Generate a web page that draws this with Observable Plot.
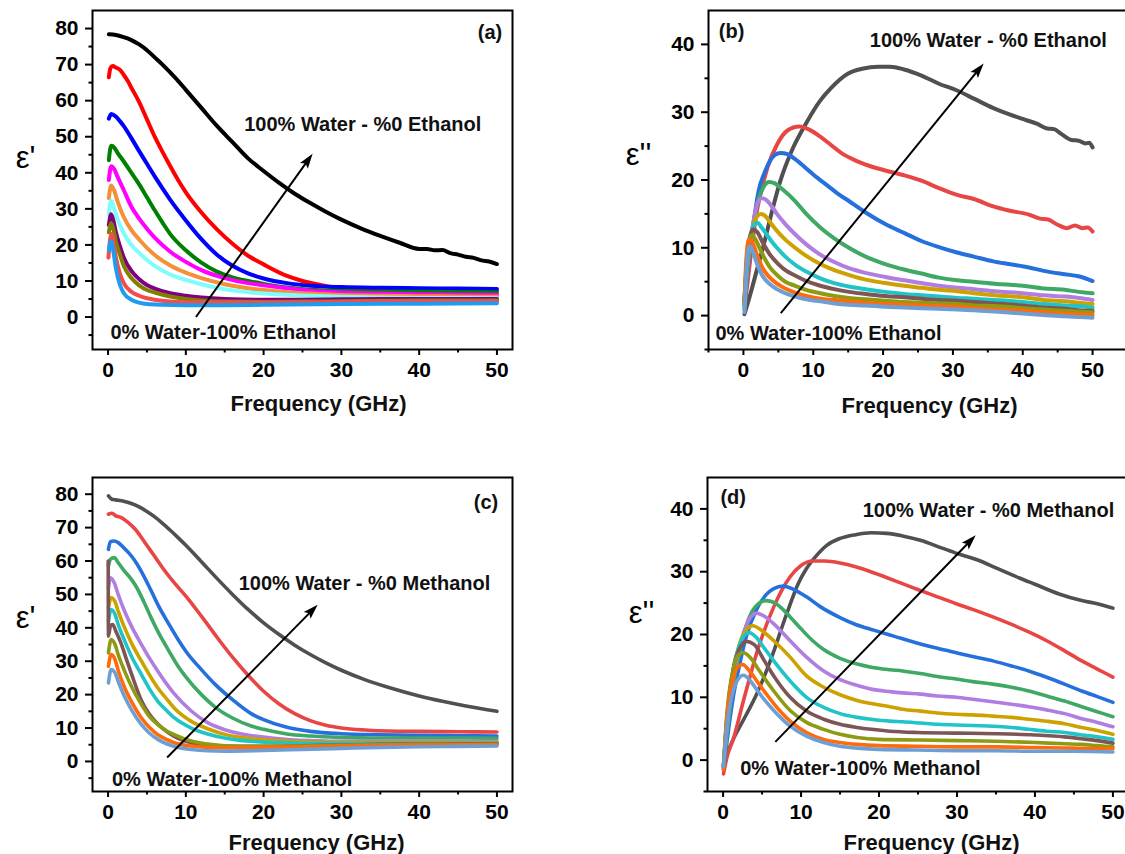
<!DOCTYPE html>
<html>
<head>
<meta charset="utf-8">
<script src="https://cdn.jsdelivr.net/npm/d3@7"></script>
<script src="https://cdn.jsdelivr.net/npm/@observablehq/plot@0.6"></script>
<style>
html, body { margin: 0; padding: 0; background: #fff; overflow: hidden; }
#fig { position: relative; width: 1125px; height: 854px; overflow: hidden; background: #fff; }
#fig svg { position: absolute; }
</style>
</head>
<body>
<div id="fig"></div>
<script>
// ---------- DATA ----------
// water percentage of each mixture (curve order: top curve first)
const waterPercent = [100, 90, 80, 70, 60, 50, 40, 30, 20, 10, 0];

// colours
const coloursEthanolReal = ["#000000", "#ff0000", "#0000ff", "#008000", "#ff00ff", "#f68f3a", "#7ffcfc", "#800080", "#808000", "#f24c4c", "#1e9cf0"];
const coloursOther = ["#505050", "#e84545", "#2570dd", "#3fa864", "#b07de0", "#cda100", "#20c4c8", "#7d5555", "#8e9b12", "#ff6a0a", "#6d9fd5"];

// tick values
const ticksMajorX = [0, 10, 20, 30, 40, 50];
const ticksMinorX = [5, 15, 25, 35, 45];
const ticksMinorXWide = [-5, 5, 15, 25, 35, 45];
const ticksMajorYReal = [0, 10, 20, 30, 40, 50, 60, 70, 80];
const ticksMinorYReal = [-5, 5, 15, 25, 35, 45, 55, 65, 75];
const ticksMajorYImag = [0, 10, 20, 30, 40];
const ticksMinorYImag = [-5, 5, 15, 25, 35];

// (a) eps' water-ethanol  [frequency GHz, value]
const epsRealEthanol = [
  [[0.1,78.4],[1,78.2],[2,77.6],[3,76.8],[4,75.6],[5,74],[6,72],[7,70],[8,67.8],[9,65.5],[10,63],[12,58],[14,53],[16,48.5],[18,44],[20,40.5],[22,37.2],[24,34.2],[26,31.6],[28,29.2],[30,27],[32.5,24.6],[35,22.5],[37.5,20.6],[40,18.9],[41,18.9],[42,18.5],[43,18.6],[44,17.7],[45,17.3],[46,16.7],[47,16.4],[48,15.7],[49,15.4],[50,14.7]],
  [[0.1,66.5],[0.3,69],[0.6,69.6],[1,69.2],[1.5,68.6],[2,67.2],[2.5,65.6],[3,63.6],[4,59.6],[5,54.8],[6,50],[7,45.8],[8,41.8],[9,38],[10,34.6],[12,29],[14,24.3],[16,20.3],[18,17],[20,14.6],[23,11.4],[25,10],[28,8.6],[30,8],[35,7.6],[40,7.5],[45,7.4],[50,7.3]],
  [[0.1,55],[0.4,56.3],[1,55.6],[1.5,54.4],[2,53],[3,49.6],[4,46],[5,42.5],[6,39],[7,35.7],[8,32.5],[10,26.8],[12,21.6],[14,17.3],[16,14.2],[18,12.1],[20,10.7],[23,9.4],[26,8.7],[30,8.3],[35,8.1],[40,8],[45,7.9],[50,7.8]],
  [[0.1,43.5],[0.4,47.5],[0.8,47],[1.2,45.6],[2,43.2],[3,40],[4,36.8],[5,33.2],[6,29.6],[7,26.2],[8,23],[10,18.5],[12,15.1],[14,12.6],[16,11],[18,10],[20,9.2],[23,8.2],[26,7.6],[30,7.2],[35,7],[40,7],[45,6.9],[50,6.8]],
  [[0.1,38],[0.4,41.8],[0.8,41],[1.2,39],[2,35.3],[3,30.6],[4,27.3],[5,24.5],[6,22],[8,18.1],[10,15.3],[12,13],[15,10.8],[18,9.4],[20,8.8],[23,8],[26,7.3],[30,6.8],[35,6.5],[40,6.3],[45,6.2],[50,6.1]],
  [[0.1,33],[0.4,36.5],[0.8,35],[1.2,32.2],[2,27.8],[3,24.1],[4,21.5],[5,19.2],[6,17.2],[8,14.3],[10,12.3],[12,10.8],[15,9.1],[18,8],[20,7.5],[23,6.9],[26,6.5],[30,6.1],[35,5.9],[40,5.8],[45,5.7],[50,5.6]],
  [[0.1,28.5],[0.4,32.3],[0.8,30],[1.2,27.3],[2,23.3],[3,20],[4,17.8],[5,15.8],[6,14.2],[8,11.8],[10,10.3],[12,9.1],[15,7.7],[18,6.9],[20,6.5],[25,6],[30,5.6],[35,5.4],[40,5.3],[45,5.3],[50,5.2]],
  [[0.1,25.5],[0.4,28.5],[0.7,26.6],[1,23.6],[1.5,19.8],[2,16.6],[3,12.8],[4,10.5],[5,8.9],[6,7.9],[8,6.6],[10,5.9],[12,5.4],[15,5],[20,4.8],[25,4.8],[30,4.9],[35,5],[40,5],[45,5],[50,5]],
  [[0.1,23.5],[0.4,26],[0.7,24.2],[1,21],[1.5,17.5],[2,14.3],[3,10.8],[4,8.8],[5,7.5],[6,6.8],[8,5.7],[10,5],[12,4.6],[15,4.3],[20,4.2],[25,4.3],[30,4.4],[35,4.5],[40,4.6],[45,4.6],[50,4.6]],
  [[0.05,16.5],[0.3,22],[0.5,23],[0.8,19.2],[1,16.6],[1.5,12.2],[2,9.5],[3,7],[4,5.9],[5,5.2],[6,4.8],[8,4.3],[10,4.1],[15,4],[20,4],[30,4.2],[40,4.4],[50,4.4]],
  [[0.1,18.5],[0.4,21],[0.7,18],[1,13.6],[1.5,9.1],[2,6.7],[3,4.8],[4,4],[5,3.6],[7,3.4],[10,3.3],[15,3.3],[20,3.4],[30,3.6],[40,3.7],[50,3.8]]
];

// (b) eps'' water-ethanol
const epsImagEthanol = [
  [[0.15,0.2],[1,3.2],[2,7],[2.8,10],[4,15],[5.3,19.9],[7,24.5],[9,28.4],[11,31.7],[12.5,33.5],[15,35.7],[17,36.4],[19.3,36.7],[21,36.7],[23,36.3],[25.5,35.4],[28,34.2],[30.6,33.2],[33,32],[35.8,30.6],[38,29.7],[40,29],[42,28.3],[43.5,27.6],[44.5,27.5],[45.5,26.8],[47,25.9],[48,25.8],[49,25.4],[49.5,25.5],[50,24.8]],
  [[0.15,1],[0.6,5],[1,8.5],[1.5,12.5],[2,15.8],[2.7,19],[3.5,22],[4.8,25.2],[6.3,27.3],[8,27.9],[9.5,27.4],[11,26.4],[12.5,25.2],[14,24],[16,22.9],[18,22.1],[20.3,21.4],[23,20.7],[25.5,19.9],[28,18.8],[30.6,17.8],[33,17.2],[35.8,16.1],[38,15.5],[40.9,14.9],[42.5,14.3],[43.5,14.2],[45,13.4],[46.3,12.9],[47.5,13.3],[48.5,12.9],[49.3,13],[50,12.4]],
  [[0.15,1.5],[0.5,5.5],[1,10],[1.5,14],[2.2,18.5],[3,21],[3.8,22.8],[4.5,23.7],[5.3,24],[6.3,23.8],[7.5,23],[9,21.7],[10,20.8],[12,19.2],[13.5,18],[15.1,16.9],[17.5,15.2],[20.3,13.5],[23,12.2],[25.5,11],[28,10.1],[30.6,9.3],[33,8.7],[35.8,8],[38,7.6],[40.9,7.1],[43,6.6],[46,6.1],[48,5.8],[50,5.1]],
  [[0.15,1.5],[0.5,6],[1,10.5],[1.5,14],[2,16.5],[2.8,18.8],[3.7,19.7],[4.5,19.5],[5.5,18.7],[7.4,16.9],[9,15],[11,13],[13,11.4],[15.1,10],[17.5,8.7],[20.3,7.6],[23,6.8],[25.5,6.2],[28,5.6],[30.6,5.2],[33,5],[36,4.7],[40,4.4],[43,4],[46,3.8],[48,3.5],[50,3.3]],
  [[0.15,2],[0.5,6.5],[1,11],[1.5,14.2],[2,16.5],[2.6,17.3],[3.2,17.1],[4,16.2],[4.8,15],[6,13.5],[7.4,12],[9,10.5],[11,9],[13,7.9],[15.1,7],[17.5,6.3],[20.3,5.7],[23,5.2],[25.5,4.8],[28,4.4],[30.6,4.1],[33,3.9],[36,3.6],[40,3.3],[43,3],[46,2.8],[48,2.6],[50,2.3]],
  [[0.15,2],[0.5,7],[1,11],[1.5,13.5],[2,14.7],[2.5,15],[3,14.8],[3.8,13.8],[4.8,12.5],[6,11.2],[7.4,10],[9,8.8],[11,7.6],[13,6.7],[15.1,6],[17.5,5.3],[20.3,4.8],[23,4.4],[25.5,4.1],[28,3.8],[30.6,3.6],[33,3.3],[36,3],[40,2.7],[43,2.3],[46,2.1],[48,1.9],[50,1.7]],
  [[0.15,2],[0.5,7.5],[1,11.5],[1.5,13.4],[2,13.7],[2.6,13],[3.3,12],[4,11],[4.8,10],[6,8.7],[7.4,7.5],[9,6.5],[11,5.5],[13,4.8],[15.1,4.3],[17.5,3.9],[20.3,3.5],[23,3.2],[25.5,3],[28,2.8],[30.6,2.6],[33,2.5],[36,2.3],[40,2],[43,1.7],[46,1.5],[48,1.4],[50,1.2]],
  [[0.15,2],[0.5,8],[0.9,11.5],[1.4,12.7],[2,12.3],[2.8,10.7],[3.8,9],[5,7.6],[6,6.7],[7.4,5.9],[9,5.1],[11,4.4],[13,3.9],[15.1,3.5],[17.5,3.2],[20.3,2.9],[23,2.7],[25.5,2.5],[28,2.3],[30.6,2.2],[33,2],[36,1.8],[40,1.5],[43,1.2],[46,1],[48,0.8],[50,0.7]],
  [[0.15,2],[0.4,7],[0.8,11],[1.2,11.9],[1.7,11.3],[2.3,10],[3,8.5],[3.8,7.1],[5,5.8],[6,5],[7.4,4.4],[9,3.8],[11,3.3],[13,2.9],[15.1,2.6],[17.5,2.4],[20.3,2.2],[23,2],[25.5,1.9],[28,1.8],[30.6,1.7],[33,1.5],[36,1.4],[40,1.1],[43,0.9],[46,0.7],[48,0.6],[50,0.5]],
  [[0.15,2],[0.4,8],[0.7,11],[1,11.2],[1.4,10.5],[2,8.8],[2.7,7.1],[3.5,5.9],[4.8,4.7],[6,4],[7.4,3.4],[9,2.9],[11,2.5],[13,2.3],[15.1,2.1],[17.5,1.9],[20.3,1.7],[23,1.6],[25.5,1.5],[28,1.4],[30.6,1.3],[33,1.1],[36,0.9],[40,0.7],[43,0.5],[46,0.3],[48,0.2],[50,0.1]],
  [[0.15,0.5],[0.4,6],[0.7,9.8],[1,10.2],[1.4,9.3],[2,7.5],[2.7,5.9],[3.5,4.9],[4.8,3.9],[6,3.3],[7.4,2.8],[9,2.4],[11,2.1],[13,1.8],[15.1,1.6],[17.5,1.5],[20.3,1.3],[23,1.2],[25.5,1.1],[28,1],[30.6,0.9],[33,0.8],[36,0.6],[40,0.3],[43,0.1],[46,-0.1],[48,-0.2],[50,-0.3]]
];

// (c) eps' water-methanol
const epsRealMethanol = [
  [[0.05,79.5],[0.5,78.5],[1,78.3],[2,77.9],[3,77.2],[4,76.2],[5,74.8],[6,73.2],[7,71.3],[8,69.2],[9,67],[10,64.7],[12,59.8],[14,54.8],[16,50],[18,45.5],[20,41.5],[22,38],[24,34.8],[26,32],[28,29.5],[30,27.3],[33,24.5],[36,22.2],[40,19.6],[43,18],[46,16.6],[50,15]],
  [[0.05,74],[0.5,74.3],[1,73.5],[1.7,73],[2.6,71.5],[3.5,69.5],[4.6,66],[5.8,62],[7,58],[8.5,53.5],[10,49.5],[12,43.5],[14,37.2],[16,31.2],[18,25.8],[20,21],[22,17.2],[24,14.3],[26,12.2],[28,10.8],[30,10],[33,9.4],[36,9.1],[40,9],[45,8.9],[50,8.8]],
  [[0.05,63.5],[0.3,65.8],[0.8,66],[1.3,65.5],[2,64],[3,61.5],[3.7,59.2],[4.6,55.5],[5.5,51.3],[6.5,46.5],[7.8,41.2],[9,36.5],[10,33],[12,27.5],[13.8,23],[16,18.5],[18.4,14.3],[20,12.5],[23,10.2],[26,9],[30,8.3],[35,8],[40,7.8],[45,7.7],[50,7.6]],
  [[0.05,58.5],[0.3,60.5],[0.8,61],[1.3,59.5],[2,57.3],[3,54.5],[3.7,52],[4.6,47.8],[5.5,43.2],[6.5,38.5],[7.8,33.2],[9,28.5],[10,25.3],[12,20],[13.8,16.2],[16,13],[18.4,10.6],[20,9.6],[23,8.2],[26,7.6],[30,7.2],[35,7],[40,7],[45,7],[50,6.9]],
  [[0.05,52],[0.3,55],[0.8,53.5],[1.3,50],[2.1,45.1],[3,40.5],[4.3,35],[5.3,31],[6.4,27],[7.5,23.3],[8.5,20.3],[10.7,15.1],[12.8,11.6],[15,9.5],[17,8.3],[19.2,7.5],[23.5,6.5],[27,6.2],[30,6],[35,6],[40,6],[45,6],[50,6]],
  [[0.05,46],[0.4,49],[0.9,47.8],[1.3,45],[2.1,40.2],[3,35.5],[4.3,30],[5.3,26],[6.4,22],[7.5,18.8],[8.5,16],[10.7,12],[12.8,9.8],[15,8.1],[17,7.2],[19.2,6.6],[23.5,6],[27,5.8],[30,5.7],[35,5.7],[40,5.7],[45,5.7],[50,5.7]],
  [[0.05,42],[0.4,45.5],[0.9,44],[1.3,41],[2.1,36.3],[3,31.5],[4.3,26],[5.3,21.8],[6.4,18],[7.5,15.3],[8.5,13.1],[10.7,10],[12.8,8.2],[15,7],[17,6.3],[19.2,5.9],[23.5,5.5],[27,5.4],[30,5.4],[35,5.4],[40,5.4],[45,5.5],[50,5.5]],
  [[0.02,60],[0.05,37.5],[0.3,40.5],[0.6,41],[1,39],[1.7,35.2],[2.3,31],[3,26.3],[4.3,18.2],[5.3,14.2],[6.4,11.2],[7.5,9],[8.5,7.5],[10.7,5.6],[13,4.8],[15,4.5],[20,4.5],[25,4.7],[30,4.9],[35,5.1],[40,5.2],[45,5.3],[50,5.3]],
  [[0.05,32.5],[0.4,36.5],[0.9,35],[1.3,32],[2.1,27.2],[3,22.5],[4.3,17],[5.3,13.5],[6.4,11],[7.5,9.2],[8.5,8],[10.7,6.1],[12.8,5.2],[15,4.7],[20,4.5],[25,4.6],[30,4.8],[35,5],[40,5.1],[45,5.1],[50,5.1]],
  [[0.05,28.5],[0.4,32],[0.9,30.5],[1.3,27.3],[2.1,22.2],[3,18],[4.3,13],[5.3,10.2],[6.4,8],[7.5,6.6],[8.5,5.6],[10.7,4.6],[12.8,4.2],[15,4.1],[20,4.2],[25,4.4],[30,4.6],[35,4.8],[40,4.9],[45,5],[50,5]],
  [[0.05,23.5],[0.4,27.5],[0.9,26.5],[1.3,24],[2.1,19.5],[3,15.5],[4.3,11],[5.3,8.5],[6.4,6.6],[7.5,5.3],[8.5,4.5],[10.7,3.6],[12.8,3.2],[15,3.1],[20,3.3],[25,3.6],[30,3.9],[35,4.2],[40,4.4],[45,4.5],[50,4.6]]
];

// (d) eps'' water-methanol
const epsImagMethanol = [
  [[0.05,-1],[0.5,1],[1,2.5],[2,5],[3,7.3],[4.3,10.5],[5.5,14],[6.5,17.3],[7.5,21],[8.6,24.8],[9.6,28],[10.7,30.5],[12,32.6],[13.3,34.2],[15,35.3],[17,35.9],[19,36.2],[21,36.1],[23,35.7],[25.3,35],[28,33.8],[30,32.9],[33,31.7],[35,30.6],[38,29],[40,28],[43,26.5],[46,25.4],[48,24.9],[50,24.2]],
  [[0.05,-2.2],[0.5,0.5],[1.3,3.3],[2.6,9.4],[3.5,13.5],[4.3,17],[5.4,21],[6.5,24.4],[7.5,27],[8.6,29.2],[10,31],[11.5,31.7],[13,31.7],[15,31.4],[17,30.8],[18.5,30.2],[20.7,29.2],[23,28.1],[25.3,27],[27.5,26],[29.9,24.9],[32,24],[34.6,22.8],[37,21.6],[39.2,20.4],[41.5,19],[43.8,17.4],[46,15.8],[48,14.5],[50,13.2]],
  [[0.05,-1.5],[0.5,3],[1.3,10],[2,14.5],[3,19.8],[4.3,24],[5.5,26.3],[6.5,27.3],[7.7,27.7],[9,27.2],[10.7,26],[12.5,24.4],[15,22.7],[17,21.6],[19.3,20.7],[22,19.7],[25.3,18.5],[27.5,17.8],[29.9,17.1],[32,16.5],[34.6,15.8],[37,15],[39.2,14.2],[41.5,13.2],[43.8,12.1],[46,11],[48,10.1],[50,9.2]],
  [[0.05,-1.2],[0.5,4],[1.3,12],[2,16.5],[3,21.5],[4,24.2],[5.5,25.4],[6.5,25.1],[7.5,24.2],[8.6,22.8],[10,20.9],[11.5,19],[12.9,17.6],[15,16.2],[17.2,15.3],[19,14.8],[21.4,14.4],[23,14.2],[25.3,13.8],[27.5,13.3],[29.9,12.9],[32,12.5],[34.6,12.1],[37,11.6],[39.2,11],[41.5,10.2],[43.8,9.4],[46,8.5],[48,7.7],[50,6.9]],
  [[0.05,-1],[0.5,5],[1.3,13],[2,17.5],[3,21.5],[4.3,23.4],[5.3,22.9],[6.5,21.7],[8.6,19],[10.7,16.4],[12.9,14.2],[15,12.8],[17.2,11.9],[19,11.3],[21.4,10.9],[23,10.7],[25.3,10.5],[27.5,10.2],[29.9,10],[32,9.7],[34.6,9.3],[37,8.9],[39.2,8.5],[41.5,8],[43.8,7.4],[46,6.6],[48,6],[50,5.3]],
  [[0.05,-1],[0.5,6],[1.3,14],[2,18],[3,20.8],[3.8,21.4],[5,20.6],[6.5,19],[8.6,16.4],[10.7,13.4],[12.9,11.6],[15,10.4],[17.2,9.5],[19,9],[21.4,8.5],[23,8.1],[25.3,7.8],[27.5,7.5],[29.9,7.3],[32,7.2],[34.6,7],[37,6.8],[39.2,6.5],[41.5,6.2],[43.8,5.8],[46,5.2],[48,4.7],[50,4.1]],
  [[0.05,-1],[0.5,6.5],[1.3,14.5],[2,18],[3.3,20.3],[4.3,19.5],[5.3,17.8],[6.5,15.8],[8.6,12.6],[10.7,10],[12.9,8.4],[15,7.4],[17.2,6.8],[19,6.5],[21.4,6.2],[23,6.1],[25.3,5.9],[27.5,5.7],[29.9,5.6],[32,5.5],[34.6,5.4],[37,5.2],[39.2,4.9],[41.5,4.6],[43.8,4.4],[46,4],[48,3.7],[50,3.3]],
  [[0.05,-1],[0.5,7],[1.3,14.5],[2,17.5],[3,18.9],[4,18.4],[5.3,15.8],[6.5,13.4],[8.6,10],[10.7,7.8],[12.9,6.5],[15,5.7],[17.2,5.2],[19,4.9],[21.4,4.6],[25,4.4],[30,4.3],[35,4.2],[40,4],[43.8,3.7],[46,3.4],[48,3.1],[50,2.7]],
  [[0.05,-1],[0.5,7.5],[1.3,14.5],[2,16.8],[2.6,17.1],[3.5,16.3],[4.5,14.5],[5.5,12.7],[6.5,11],[8.6,7.9],[10.7,6],[12.9,4.9],[15,4.1],[17.2,3.6],[20,3.3],[25,3.2],[30,3.1],[35,3],[40,2.8],[43.8,2.6],[46,2.5],[48,2.3],[50,2.1]],
  [[0.05,-1.5],[0.5,7],[1.3,13],[2,15],[2.5,15.2],[3.5,14],[4.5,12.3],[5.5,10.6],[6.5,9],[8.6,6.2],[10.7,4.4],[12.9,3.3],[15,2.8],[17.2,2.5],[20,2.3],[25,2.2],[30,2.1],[35,2.1],[40,2],[45,1.9],[50,1.8]],
  [[0.05,-1],[0.5,5.5],[1.3,11],[2,13],[2.6,13.5],[3.5,12.6],[4.5,10.9],[5.5,9.3],[6.5,7.9],[8.6,5.4],[10.7,3.8],[12.9,2.8],[15,2.2],[17.2,1.9],[20,1.7],[25,1.6],[30,1.5],[35,1.5],[40,1.4],[45,1.4],[50,1.3]]
];

// annotation arrows [x1, y1, x2, y2] in data units
const arrowA = [11.3, 0, 26.3, 45.3];
const arrowB = [5.35, 0.35, 34.4, 37.2];
const arrowC = [7.6, 1.2, 26.95, 46.9];
const arrowD = [6.7, 2.9, 32.4, 35.8];

// annotation texts, anchored at their left end [x, y] in data units
const notesA = [
  {x: 17.5, y: 53.5, text: "100% Water - %0 Ethanol"},
  {x: 0.3, y: -4.25, text: "0% Water-100% Ethanol"}
];
const notesB = [
  {x: 18.1, y: 40.6, text: "100% Water - %0 Ethanol"},
  {x: -4.0, y: -2.6, text: "0% Water-100% Ethanol"}
];
const notesC = [
  {x: 16.8, y: 53.2, text: "100% Water - %0 Methanol"},
  {x: 0.5, y: -5.4, text: "0% Water-100% Methanol"}
];
const notesD = [
  {x: 17.9, y: 39.8, text: "100% Water - %0 Methanol"},
  {x: 2.2, y: -1.4, text: "0% Water-100% Methanol"}
];
// panel letters, centred [x, y] in data units
const letterA = {x: 49.1, y: 78.8, text: "(a)"};
const letterB = {x: -1.7, y: 41.9, text: "(b)"};
const letterC = {x: 48.6, y: 77.6, text: "(c)"};
const letterD = {x: 1.3, y: 41.8, text: "(d)"};

// ---------- LAYOUT ----------
const FONT = "'Liberation Sans', Arial, Helvetica, sans-serif";
const panels = [
  {series: epsRealEthanol, colours: coloursEthanolReal, arrow: arrowA, notes: notesA, letter: letterA, yLabel: "ε'",
   left: 0, top: 0, width: 560, height: 425, mt: 10, mr: 48, mb: 76, ml: 92,
   xDomain: [-2, 52], yDomain: [-9, 85], xMajor: ticksMajorX, xMinor: ticksMinorX, yMajor: ticksMajorYReal, yMinor: ticksMinorYReal,
   lw: 4, yLab: [-67, -21.5], xLab: [16, 54]},
  {series: epsImagEthanol, colours: coloursOther, arrow: arrowB, notes: notesB, letter: letterB, yLabel: "ε''",
   left: 560, top: 0, width: 570, height: 425, mt: 10, mr: 3, mb: 76, ml: 148,
   xDomain: [-5, 55], yDomain: [-5, 45], xMajor: ticksMajorX, xMinor: ticksMinorXWide, yMajor: ticksMajorYImag, yMinor: ticksMinorYImag,
   lw: 4, yLab: [-70, -24.5], xLab: [11.5, 56]},
  {series: epsRealMethanol, colours: coloursOther, arrow: arrowC, notes: notesC, letter: letterC, yLabel: "ε'",
   left: 0, top: 430, width: 560, height: 424, mt: 47, mr: 48, mb: 63, ml: 92,
   xDomain: [-2, 52], yDomain: [-9, 85], xMajor: ticksMajorX, xMinor: ticksMinorX, yMajor: ticksMajorYReal, yMinor: ticksMinorYReal,
   lw: 3.6, yLab: [-67, -16], xLab: [14, 51]},
  {series: epsImagMethanol, colours: coloursOther, arrow: arrowD, notes: notesD, letter: letterD, yLabel: "ε''",
   left: 560, top: 430, width: 570, height: 424, mt: 47, mr: 2, mb: 63, ml: 147,
   xDomain: [-2, 52], yDomain: [-5, 45], xMajor: ticksMajorX, xMinor: ticksMinorX, yMajor: ticksMajorYImag, yMinor: ticksMinorYImag,
   lw: 3.6, yLab: [-66, -21], xLab: [13.5, 51]}
];

function makePanel(p) {
  const rows = p.series.flatMap((pts, i) => pts.map(([f, v]) => ({mix: waterPercent[i], f, v})));
  // pixel scales mirroring the plot, used only to orient the arrow head
  const xs = d3.scaleLinear(p.xDomain, [p.ml, p.width - p.mr]);
  const ys = d3.scaleLinear(p.yDomain, [p.height - p.mb, p.mt]);
  const [x1, y1, x2, y2] = p.arrow;
  const ang = Math.atan2(ys(y2) - ys(y1), xs(x2) - xs(x1));
  const c = Math.cos(ang), s = Math.sin(ang);
  const L = 15, W = 4.8;
  const head = {
    draw(ctx) {
      const bx = -L * c, by = -L * s, px = -s * W, py = c * W;
      ctx.moveTo(0, 0);
      ctx.lineTo(bx + px, by + py);
      ctx.lineTo(-0.8 * L * c, -0.8 * L * s);
      ctx.lineTo(bx - px, by - py);
      ctx.closePath();
    }
  };
  const xEnd = xs.invert(xs(x2) - 10 * c), yEnd = ys.invert(ys(y2) - 10 * s);

  const svg = Plot.plot({
    width: p.width, height: p.height,
    marginTop: p.mt, marginRight: p.mr, marginBottom: p.mb, marginLeft: p.ml,
    style: {fontFamily: FONT, fontSize: "21px", fontWeight: "bold", background: "transparent", overflow: "visible", color: "#000"},
    x: {domain: p.xDomain},
    y: {domain: p.yDomain},
    color: {type: "ordinal", domain: waterPercent, range: p.colours},
    marks: [
      Plot.line(rows, {x: "f", y: "v", z: "mix", stroke: "mix", strokeWidth: p.lw, curve: "monotone-x", strokeLinejoin: "round", strokeLinecap: "round"}),
      Plot.link([p.arrow], {x1: d => d[0], y1: d => d[1], x2: () => xEnd, y2: () => yEnd, stroke: "#000", strokeWidth: 2}),
      Plot.dot([p.arrow], {x: d => d[2], y: d => d[3], symbol: head, r: 5, fill: "#000", stroke: "none"}),
      Plot.text(p.notes, {x: "x", y: "y", text: "text", textAnchor: "start", lineAnchor: "middle", fontSize: 20, fontWeight: "bold", fill: "#111"}),
      Plot.text([p.letter], {x: "x", y: "y", text: "text", textAnchor: "middle", lineAnchor: "middle", fontSize: 20, fontWeight: "bold", fill: "#111"}),
      Plot.frame({stroke: "#000", strokeWidth: 2}),
      Plot.axisX(p.xMajor, {anchor: "bottom", tickSize: 6, tickPadding: 7, strokeWidth: 2, label: null, fontSize: 21, fontWeight: "bold"}),
      Plot.axisX(p.xMinor, {anchor: "bottom", tickSize: 3.5, strokeWidth: 2, label: null, tickFormat: () => ""}),
      Plot.axisY(p.yMajor, {anchor: "left", tickSize: 7, tickPadding: 7, strokeWidth: 2, label: null, fontSize: 21, fontWeight: "bold"}),
      Plot.axisY(p.yMinor, {anchor: "left", tickSize: 3.5, strokeWidth: 2, label: null, tickFormat: () => ""}),
      Plot.text([p.yLabel], {text: d => d, frameAnchor: "left", dx: p.yLab[0], dy: p.yLab[1], textAnchor: "middle", lineAnchor: "middle", fontSize: 31, fontWeight: "normal", fill: "#000"}),
      Plot.text(["Frequency (GHz)"], {text: d => d, frameAnchor: "bottom", dx: p.xLab[0], dy: p.xLab[1], textAnchor: "middle", lineAnchor: "middle", fontSize: 22, fontWeight: "bold", fill: "#111"})
    ]
  });
  svg.style.left = p.left + "px";
  svg.style.top = p.top + "px";
  return svg;
}

const fig = document.getElementById("fig");
for (const p of panels) fig.appendChild(makePanel(p));
</script>
</body>
</html>
